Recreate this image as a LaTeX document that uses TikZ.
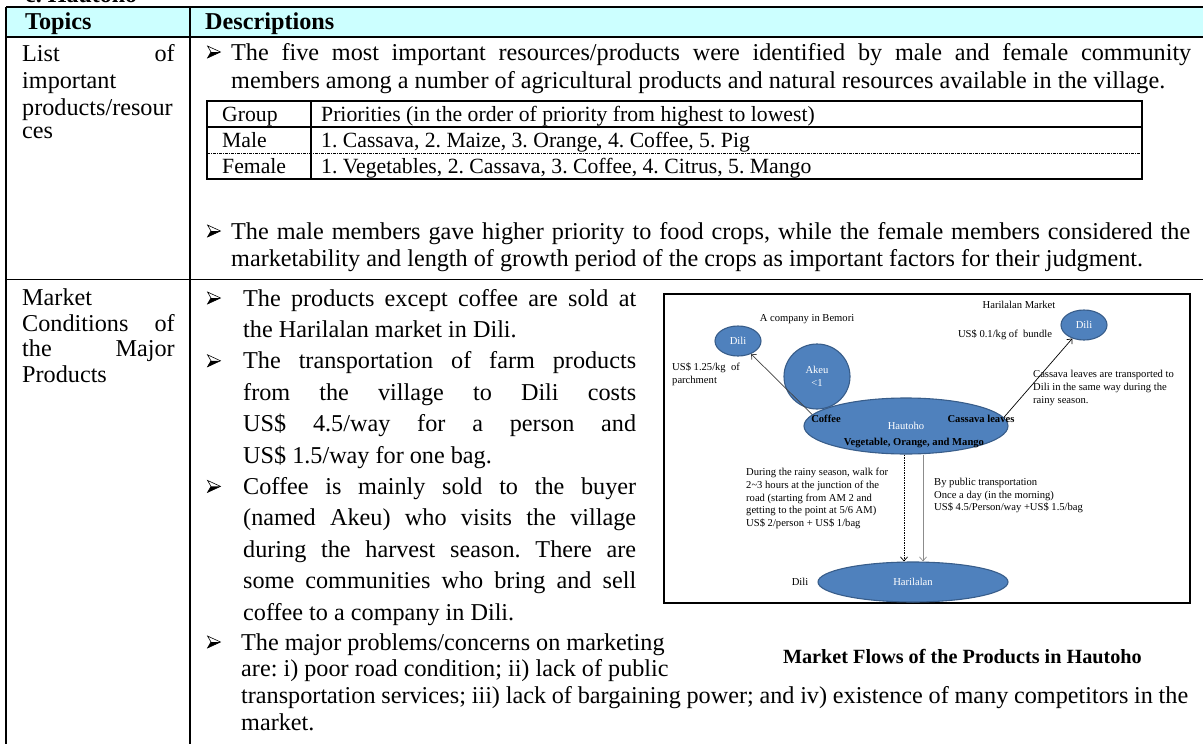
\documentclass[tikz,border=0pt]{standalone}
\usepackage{fontspec}
\setmainfont{Liberation Serif}
\usetikzlibrary{shapes.geometric,arrows.meta}
\newcommand\mainf{\fontsize{24.2}{29}\selectfont}
\newcommand\tabf{\fontsize{21.7}{26}\selectfont}
\newcommand\smf{\fontsize{10.6}{12.9}\selectfont}
\newcommand\capf{\fontsize{20.2}{24}\selectfont\bfseries}
\newcommand\jl[2]{\makebox[#1pt][s]{#2}}
\newcommand\bulsym{\tikz[x=1pt,y=1pt,baseline=-2pt]{\draw[line width=0.6pt,line join=miter] (0,12) -- (13,6) -- (0,0) -- (3.5,6) -- cycle; \fill (3.5,6) -- (13,6) -- (0,0) -- cycle;}}
\definecolor{hdr}{HTML}{CCFFFF}
\definecolor{ellfill}{HTML}{4F81BD}
\definecolor{elldraw}{HTML}{385D8A}
\frenchspacing
\begin{document}
\begin{tikzpicture}[x=1pt,y=-1pt,
 txt/.style={anchor=base west,inner sep=0pt,font=\mainf},
 txe/.style={anchor=base east,inner sep=0pt,font=\mainf},
 bul/.style={anchor=base west,inner sep=0pt},
 tab/.style={anchor=base west,inner sep=0pt,font=\tabf},
 sm/.style={inner sep=0pt,font=\smf},
 smb/.style={inner sep=0pt,font=\smf\bfseries},
 ell/.style={ellipse,draw=elldraw,fill=ellfill,line width=1.1pt,inner sep=0pt,text=white,font=\smf},
 tblline/.style={line width=1.6pt},
 flowarrow/.style={line width=0.7pt,-{Straight Barb[length=4pt,width=7pt]}},
]
\useasboundingbox (0,0) rectangle (1203,744);
\clip (0,0) rectangle (1203,744);
% title (cut at the top edge)
\node[anchor=base west,inner sep=0pt,font=\fontsize{24}{28}\selectfont\bfseries] (title) at (25,2.5) {c. Hautoho};
% table frame
\fill[hdr] (6,7) rectangle (1210,37);
\draw[tblline] (6,7) -- (1210,7);
\draw[tblline] (6,37) -- (1210,37);
\draw[tblline] (6,279.5) -- (1210,279.5);
\draw[tblline] (6,7) -- (6,750);
\draw[tblline] (190,7) -- (190,750);
% header
\node[txt,font=\mainf\bfseries] (topics) at (25,30) {Topics};
\node[txt,font=\mainf\bfseries] (desc) at (205,30) {Descriptions};
% row 1 left
\node[txt] (c1a) at (22,61) {List};
\node[txe] (c1b) at (175,61) {of};
\node[txt] (c1c) at (22,88) {important};
\node[txt] (c1d) at (22,115) {products/resour};
\node[txt] (c1e) at (22,138) {ces};
% row 1 right
\node[bul] (bu1) at (207,60) {\bulsym};
\node[txt] (r1a) at (231,60) {\jl{960}{The five most important resources/products were identified by male and female community}};
\node[txt] (r1b) at (231,88) {members among a number of agricultural products and natural resources available in the village.};
\draw[line width=1.3pt] (207,101) rectangle (1142,179);
\draw[line width=1.1pt] (207,127) -- (1142,127);
\draw[line width=0.8pt,dash pattern=on 3pt off 1pt on 1pt off 1pt] (207,153) -- (1142,153);
\draw[line width=1.1pt] (311,101) -- (311,179);
\node[tab] (g1) at (222,121) {Group};
\node[tab] (g2) at (321,121) {Priorities (in the order of priority from highest to lowest)};
\node[tab] (m1) at (222,147) {Male};
\node[tab] (m2) at (321,147) {1. Cassava, 2. Maize, 3. Orange, 4. Coffee, 5. Pig};
\node[tab] (f1) at (222,173) {Female};
\node[tab] (f2) at (321,173) {1. Vegetables, 2. Cassava, 3. Coffee, 4. Citrus, 5. Mango};
\node[bul] (bu2) at (207,239) {\bulsym};
\node[txt] (r1c) at (231,239) {\jl{959}{The male members gave higher priority to food crops, while the female members considered the}};
\node[txt] (r1d) at (231,266) {marketability and length of growth period of the crops as important factors for their judgment.};
% row 2 left
\node[txt] (c2a) at (22,305) {Market};
\node[txt] (c2b) at (22,331) {Conditions};
\node[txe] (c2c) at (175,331) {of};
\node[txt] (c2d) at (22,356) {the};
\node[txe] (c2e) at (175,356) {Major};
\node[txt] (c2f) at (22,382) {Products};
% row 2 right
\node[bul] (bu3) at (207,306) {\bulsym};
\node[txt] (p1) at (243,306) {\jl{393}{The products except coffee are sold at}};
\node[txt] (p2) at (243,337.4) {the Harilalan market in Dili.};
\node[bul] (bu4) at (207,368.8) {\bulsym};
\node[txt] (p3) at (243,368.8) {\jl{393}{The transportation of farm products}};
\node[txt] (p4) at (243,400.2) {\jl{393}{from the village to Dili costs}};
\node[txt] (p5) at (243,431.6) {\jl{393}{US\$ 4.5/way for a person and}};
\node[txt] (p6) at (243,463) {US\$ 1.5/way for one bag.};
\node[bul] (bu5) at (207,494.4) {\bulsym};
\node[txt] (p7) at (243,494.4) {\jl{393}{Coffee is mainly sold to the buyer}};
\node[txt] (p8) at (243,525.8) {\jl{393}{(named Akeu) who visits the village}};
\node[txt] (p9) at (243,557.2) {\jl{393}{during the harvest season. There are}};
\node[txt] (p10) at (243,588.6) {\jl{393}{some communities who bring and sell}};
\node[txt] (p11) at (243,620) {coffee to a company in Dili.};
\node[bul] (bu6) at (207,650) {\bulsym};
\node[txt] (p12) at (241,650) {The major problems/concerns on marketing};
\node[txt] (p13) at (241,676.7) {are: i) poor road condition; ii) lack of public};
\node[txt] (p14) at (241,703.4) {\jl{947}{transportation services; iii) lack of bargaining power; and iv) existence of many competitors in the}};
\node[txt] (p15) at (241,730) {market.};
% diagram frame
\draw[line width=1.2pt] (664,294) rectangle (1190,603);
% diagram nodes
\node[ell,minimum width=46pt,minimum height=30pt] (dilil) at (738,341) {Dili};
\node[ell,minimum width=46pt,minimum height=30pt] (dilir) at (1084,325) {Dili};
\node[ell,minimum width=66pt,minimum height=65pt,align=center] (akeu) at (817,376.5) {Akeu\\<1};
\node[ell,minimum width=204pt,minimum height=56pt] (haut) at (906,426) {Hautoho};
\node[ell,minimum width=190pt,minimum height=40pt] (haril) at (913,582) {Harilalan};
\node[smb] (coffee) at (826,419) {Coffee};
\node[smb] (cassava) at (981,419) {Cassava leaves};
\node[smb] (veg) at (914,443) {Vegetable, Orange, and Mango};
\node[sm] (bemori) at (807,319) {A company in Bemori};
\node[sm] (harmkt) at (1019,305) {Harilalan Market};
\node[sm,anchor=west,align=left] (price1) at (672,374) {US\$ 1.25/kg\ \ of\\parchment};
\node[sm] (price2) at (1005,335) {US\$ 0.1/kg of\ \ bundle};
\node[sm,anchor=west,align=left] (cassnote) at (1033,388) {Cassava leaves are transported to\\Dili in the same way during the\\rainy season.};
\node[sm,anchor=west,align=left] (walk) at (746,498.5) {During the rainy season, walk for\\2\textasciitilde3 hours at the junction of the\\road (starting from AM 2 and\\getting to the point at 5/6 AM)\\US\$ 2/person + US\$ 1/bag};
\node[sm,anchor=west,align=left] (bus) at (934,495.5) {By public transportation\\Once a day (in the morning)\\US\$ 4.5/Person/way +US\$ 1.5/bag};
\node[sm] (dililab) at (800,582) {Dili};
% connectors
\coordinate (xa) at (904,0);
\coordinate (xb) at (923,0);
\draw[flowarrow,draw=black!75] (haut.173) -- (dilil);
\draw[flowarrow] (haut.5) -- (dilir);
\draw[flowarrow,dash pattern=on 1.5pt off 1pt] (haut.south -| xa) -- (haril.north -| xa);
\draw[flowarrow,draw=black!45] (haut.south -| xb) -- (haril.north -| xb);
% caption
\node[anchor=base east,inner sep=0pt,font=\capf] (caption) at (1142,663) {Market Flows of the Products in Hautoho};
\end{tikzpicture}
\end{document}
